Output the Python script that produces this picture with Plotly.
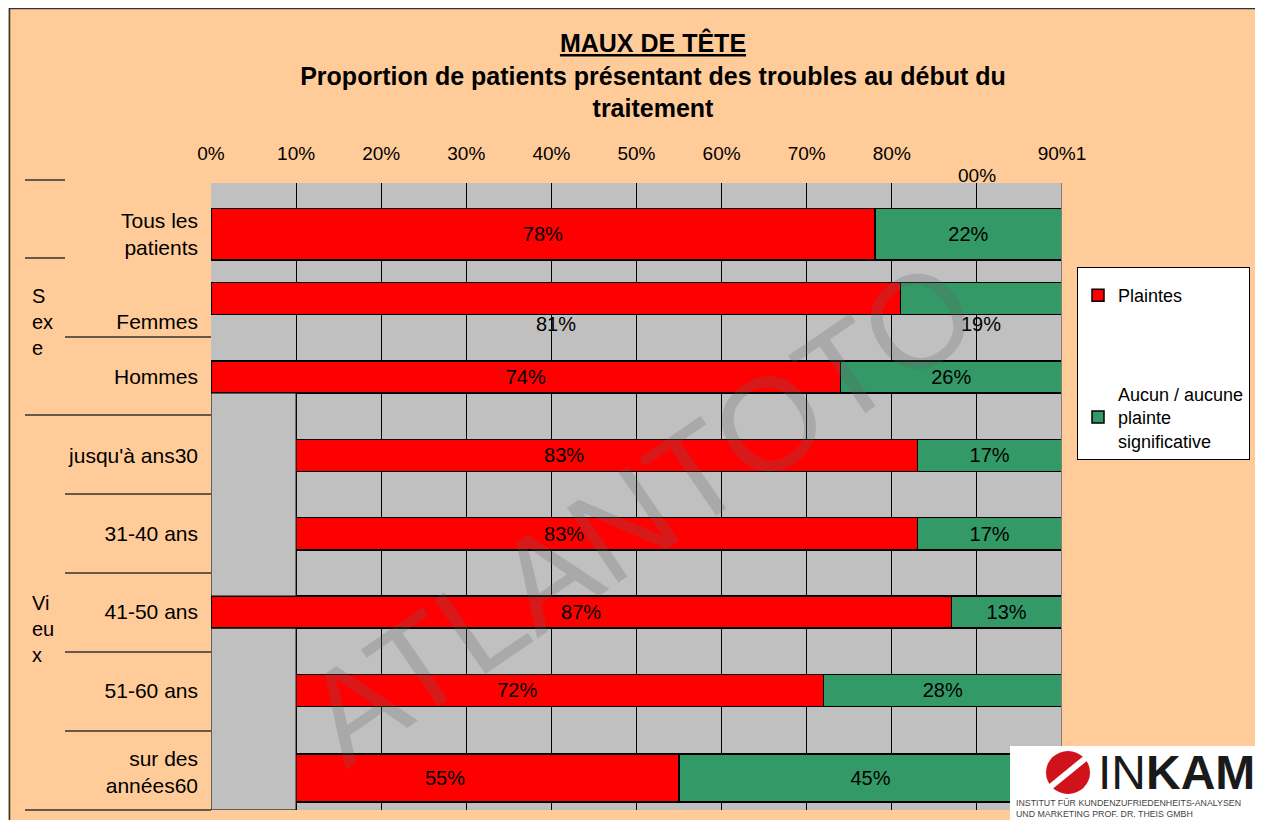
import plotly.graph_objects as go

# ---------------- data ----------------
categories = ["Tous les<br>patients", "Femmes", "Hommes", "jusqu'à ans30",
              "31-40 ans", "41-50 ans", "51-60 ans", "sur des<br>années60"]
plaintes = [78, 81, 74, 83, 83, 87, 72, 55]
aucun = [22, 19, 26, 17, 17, 13, 28, 45]
tick_vals = [0, 10, 20, 30, 40, 50, 60, 70, 80, 90, 100]
tick_text = ["0%", "10%", "20%", "30%", "40%", "50%", "60%", "70%", "80%", "", "90%1"]
extra_tick_label = "00%"
group_labels = ["S<br>ex<br>e", "Vi<br>eu<br>x"]
legend_names = ["Plaintes", "Aucun / aucune<br>plainte<br>significative"]
title_main = "MAUX DE TÊTE"
title_sub = "Proportion de patients présentant des troubles au début du<br>traitement"
watermark = "ATLANTOTO"

# ---------------- styling ----------------
OFF = 8  # page body margin
W, H = 1255, 812
# plot area in screen pixels
SL, SR, ST, SB = 211, 1062, 183, 810
L, R, T, B = SL - OFF, SR - OFF, ST - OFF, SB - OFF
PEACH = "#FFCC99"
GRAY = "#C0C0C0"
RED = "#FF0000"
GREEN = "#339966"
FONT = "Liberation Sans, Arial, sans-serif"
bar_widths = [0.66, 0.41, 0.41, 0.41, 0.41, 0.41, 0.41, 0.61]
row_shift = [0.18, 0, 0, 0, 0, 0, 0, 0.115]      # vertical nudge of each bar row
label_shift = [0.18, 0.29, 0, 0, 0, 0, 0, 0.04]  # vertical nudge of each row label
moved_label_rows = [1]  # Femmes value labels sit below the bar
Y_RANGE = [7.525, -0.475]


def px(x):  # screen x -> paper
    return (x - SL) / (SR - SL)


def py(y):  # screen y -> paper
    return (SB - y) / (SB - ST)


ypos = list(range(len(categories)))
bar_y = [i + s for i, s in zip(ypos, row_shift)]
label_y = [i + s for i, s in zip(ypos, label_shift)]


def txt(vals):
    return ["" if i in moved_label_rows else f"{v}%" for i, v in enumerate(vals)]


fig = go.Figure()
fig.add_trace(go.Bar(
    y=bar_y, x=plaintes, orientation="h", name=legend_names[0], width=bar_widths,
    marker=dict(color=RED, line=dict(color="black", width=1.5)),
    text=txt(plaintes), textposition="inside", insidetextanchor="middle",
    textfont=dict(color="black", size=20, family=FONT), legendgroup="a",
    hoverinfo="skip"))
fig.add_trace(go.Bar(
    y=bar_y, x=aucun, orientation="h", name=legend_names[1], width=bar_widths,
    marker=dict(color=GREEN, line=dict(color="black", width=1.5)),
    text=txt(aucun), textposition="inside", insidetextanchor="middle",
    textfont=dict(color="black", size=20, family=FONT), legendgroup="b",
    hoverinfo="skip"))

annotations = []
for i in moved_label_rows:
    annotations.append(dict(x=plaintes[i] / 2, y=bar_y[i], xref="x", yref="y", text=f"{plaintes[i]}%",
                            showarrow=False, yshift=-25, xanchor="center", yanchor="middle",
                            font=dict(size=20, color="black")))
    annotations.append(dict(x=plaintes[i] + aucun[i] / 2, y=bar_y[i], xref="x", yref="y", text=f"{aucun[i]}%",
                            showarrow=False, yshift=-25, xanchor="center", yanchor="middle",
                            font=dict(size=20, color="black")))

# garbled second tick label (shown lower)
annotations.append(dict(x=90, y=py(175), xref="x", yref="paper", text=extra_tick_label,
                        showarrow=False, xanchor="center", yanchor="middle",
                        font=dict(size=19, color="black")))
# group labels
annotations.append(dict(x=px(30), y=py(322), xref="paper", yref="paper", text=group_labels[0],
                        showarrow=False, xanchor="left", yanchor="middle", align="left",
                        font=dict(size=20, color="black")))
annotations.append(dict(x=px(30), y=py(629), xref="paper", yref="paper", text=group_labels[1],
                        showarrow=False, xanchor="left", yanchor="middle", align="left",
                        font=dict(size=20, color="black")))
# watermark
annotations.append(dict(x=px(640), y=py(512), xref="paper", yref="paper", text=watermark,
                        showarrow=False, textangle=-34.5, xanchor="center", yanchor="middle",
                        font=dict(size=132, color="rgba(100,100,100,0.25)", family=FONT)))
# logo texts
annotations.append(dict(x=px(1096), y=py(772), xref="paper", yref="paper",
                        text="IN<b>KAM</b>", showarrow=False, xanchor="left", yanchor="middle",
                        font=dict(size=48, color="#1a1a1a", family=FONT)))
annotations.append(dict(x=px(1014), y=py(808), xref="paper", yref="paper",
                        text="INSTITUT FÜR KUNDENZUFRIEDENHEITS-ANALYSEN<br>UND MARKETING PROF. DR. THEIS GMBH",
                        showarrow=False, xanchor="left", yanchor="middle", align="left",
                        font=dict(size=8.8, color="#444444", family=FONT)))

shapes = []
# outer border
shapes.append(dict(type="line", xref="paper", yref="paper", x0=px(9.5), x1=px(9.5), y0=py(7), y1=py(830),
                   line=dict(color="#333333", width=1.5)))
shapes.append(dict(type="line", xref="paper", yref="paper", x0=px(9), x1=px(1262), y0=py(8.5), y1=py(8.5),
                   line=dict(color="#333333", width=1.5)))
shapes.append(dict(type="line", xref="paper", yref="paper", x0=px(1260), x1=px(1260), y0=py(7), y1=py(830),
                   line=dict(color="#333333", width=1.5)))
# left separator lines
for (x0, x1, yy) in [(25, 65, 180), (25, 65, 258), (65, 211, 337), (25, 211, 415), (65, 211, 494),
                     (65, 211, 573), (65, 211, 652), (65, 211, 731), (25, 211, 810)]:
    shapes.append(dict(type="line", xref="paper", yref="paper", x0=px(x0), x1=px(x1), y0=py(yy), y1=py(yy),
                       line=dict(color="#333333", width=1.5)))
# gray patches covering start of some bars
shapes.append(dict(type="rect", xref="x", yref="y", x0=0, x1=10,
                   y0=bar_y[2] + bar_widths[2] / 2, y1=bar_y[5] - bar_widths[5] / 2,
                   fillcolor=GRAY, line=dict(color="black", width=1), layer="above"))
shapes.append(dict(type="rect", xref="x", yref="y", x0=0, x1=10,
                   y0=bar_y[5] + bar_widths[5] / 2, y1=Y_RANGE[0],
                   fillcolor=GRAY, line=dict(color="black", width=1), layer="above"))
# right plot edge
shapes.append(dict(type="line", xref="x", yref="paper", x0=100, x1=100, y0=0, y1=1,
                   line=dict(color="#808080", width=2)))
# logo box
shapes.append(dict(type="rect", xref="paper", yref="paper", x0=px(1010), x1=px(1257), y0=py(830), y1=py(746),
                   fillcolor="white", line=dict(width=0), layer="above"))
shapes.append(dict(type="circle", xref="paper", yref="paper", x0=px(1046), x1=px(1090), y0=py(794), y1=py(751),
                   fillcolor="#D0121B", line=dict(width=0), layer="above"))
shapes.append(dict(type="line", xref="paper", yref="paper", x0=px(1049), x1=px(1087), y0=py(788), y1=py(757),
                   line=dict(color="white", width=6), layer="above"))

fig.update_layout(
    width=W, height=H,
    barmode="stack",
    paper_bgcolor=PEACH, plot_bgcolor=GRAY,
    font=dict(family=FONT, size=20, color="black"),
    margin=dict(l=L, r=W - R, t=T, b=H - B, autoexpand=False),
    title=dict(text=f"<b><u>{title_main}</u></b><br><b>{title_sub}</b>",
               x=(653 - OFF) / W, xanchor="center", y=1 - 44 / H, yanchor="top",
               font=dict(size=25, family=FONT, color="black")),
    xaxis=dict(side="top", range=[0, 100], tickvals=tick_vals, ticktext=tick_text,
               showgrid=True, gridcolor="black", gridwidth=1, zeroline=False,
               ticks="", ticklabelstandoff=18, tickfont=dict(size=19), fixedrange=True),
    yaxis=dict(range=Y_RANGE, tickvals=label_y, ticktext=categories, showgrid=False,
               zeroline=False, ticks="", ticklabelstandoff=12, tickfont=dict(size=21), fixedrange=True),
    legend=dict(x=px(1077), y=py(267), xanchor="left", yanchor="top",
                bgcolor="white", bordercolor="black", borderwidth=1,
                title=dict(text=" ", font=dict(size=7)),
                font=dict(size=18, color="black"), tracegroupgap=72, traceorder="grouped",
                itemclick=False, itemdoubleclick=False),
    annotations=annotations,
    shapes=shapes,
    bargap=0.5,
)

fig.write_html("out.html")
